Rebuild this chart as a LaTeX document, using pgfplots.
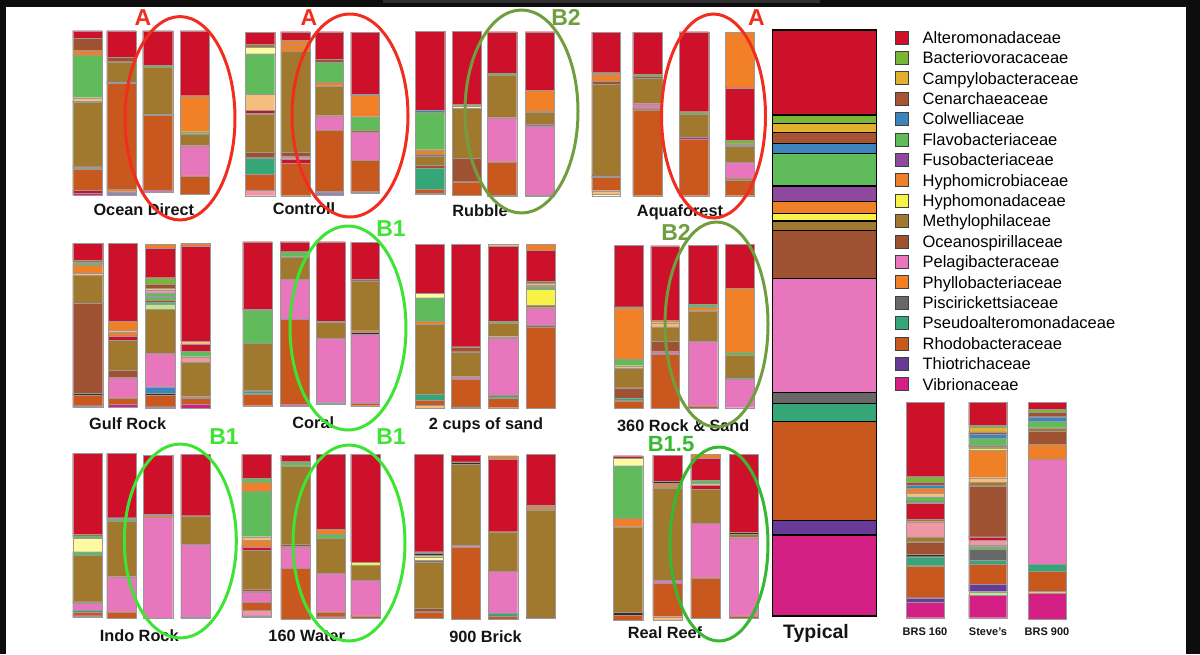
\documentclass[border=0pt]{standalone}
\usepackage{fontspec}
\setmainfont{Liberation Sans}
\usepackage{pgfplots}
\pgfplotsset{compat=1.18}
\definecolor{alt}{RGB}{205,17,42}
\definecolor{bac}{RGB}{122,182,54}
\definecolor{cam}{RGB}{226,176,46}
\definecolor{cen}{RGB}{168,84,52}
\definecolor{col}{RGB}{60,132,190}
\definecolor{fla}{RGB}{96,188,90}
\definecolor{fus}{RGB}{142,72,158}
\definecolor{hmi}{RGB}{240,128,40}
\definecolor{hmo}{RGB}{248,242,72}
\definecolor{met}{RGB}{160,120,46}
\definecolor{oce}{RGB}{158,82,50}
\definecolor{pel}{RGB}{232,118,188}
\definecolor{phy}{RGB}{242,128,38}
\definecolor{pis}{RGB}{104,104,104}
\definecolor{pse}{RGB}{52,166,120}
\definecolor{rho}{RGB}{200,88,30}
\definecolor{thi}{RGB}{104,58,152}
\definecolor{vib}{RGB}{212,32,132}
\definecolor{pch}{RGB}{245,190,125}
\definecolor{lpk}{RGB}{240,150,165}
\definecolor{lye}{RGB}{255,250,160}
\definecolor{lgr}{RGB}{190,232,140}
\definecolor{lav}{RGB}{150,130,185}
\definecolor{dk}{RGB}{70,40,25}
\definecolor{ared}{RGB}{240,45,30}
\definecolor{aolv}{RGB}{112,158,62}
\definecolor{agrn}{RGB}{62,228,52}
\definecolor{agr2}{RGB}{56,184,48}
\pgfplotsset{seg/.style={draw=black!40, line width=0.3pt},
             typ/.style={draw=black, line width=1.1pt}}
% stacked bar: [style]{x left}{x right}{top}{colour/bottom, ...} (pixel units, y downwards)
\newcommand{\sbar}[5][seg]{%
  \gdef\sbprev{#4}%
  \foreach \sbcol/\sby in {#5}{%
    \edef\sbtmp{\noexpand\addplot[#1, fill=\sbcol, forget plot, mark=none] coordinates {(#2,\sbprev) (#3,\sbprev) (#3,\sby) (#2,\sby) (#2,\sbprev)};}%
    \sbtmp
    \xdef\sbprev{\sby}%
  }%
}
\tikzset{lab/.style={font=\fontsize{16.3}{18}\selectfont\bfseries, text=black!92, inner sep=0pt},
         ann/.style={font=\fontsize{23}{25}\selectfont\bfseries, inner sep=0pt}}
\begin{document}
\begin{tikzpicture}
\begin{axis}[name=main, scale only axis, width=1200pt, height=654pt,
  xmin=0, xmax=1200, ymin=0, ymax=654, y dir=reverse, hide axis, clip=false,
  legend image code/.code={\draw[#1, draw=black!75, line width=0.7pt] (0pt,-6.5pt) rectangle (13pt,6.5pt);},
  legend cell align=left,
  legend style={at={(axis cs:894.7,30.5)}, anchor=north west, draw=none, fill=none,
    inner sep=0pt, outer sep=0pt, row sep=6.7pt, column sep=14.2pt,
    font=\fontsize{16.5}{18}\selectfont,
    nodes={inner sep=0pt, text height=11.8pt, text depth=0pt}},
]
% ---------- Ocean Direct
\sbar{72.7}{102}{30.7}{alt/38.3, oce/50, hmi/55, fla/97.7, pch/101, dk/102.3, met/166.7, oce/168, pse/169.5, rho/190, alt/193.3, vib/195}
\sbar{106.7}{136}{30.7}{alt/57.3, oce/61.7, met/81.7, dk/83.5, rho/189, hmi/191.7, lav/195}
\sbar{142.7}{172.7}{30.7}{alt/65, bac/67.3, met/114.3, dk/115.5, rho/190, vib/191.7}
\sbar{180}{209.3}{30.7}{alt/95.7, phy/131.7, bac/133.7, met/145.7, pel/175.7, rho/194}
% ---------- Controll
\sbar{245.3}{274.7}{32.3}{alt/44.3, met/47, lye/53.7, fla/94.3, pch/110.3, alt/113, dk/114.3, met/152.3, oce/157.7, pse/174.3, rho/190, lpk/195.7}
\sbar{280.7}{310}{31.7}{alt/40, hmi/45, phy/51, met/152.3, oce/156.7, lpk/159, alt/163.3, rho/195.7}
\sbar{315}{343.3}{31.7}{alt/59, oce/62.3, fla/82.3, hmi/85.7, met/115.7, pel/130.3, rho/191, hmi/192.5, lav/195}
\sbar{350.7}{379.3}{32.3}{alt/94, dk/95, phy/116.7, fla/130, met/132.3, pel/160, rho/191.7, lav/193.3}
% ---------- Rubble
\sbar{415.3}{444.7}{31}{alt/110.3, col/112.3, fla/149.7, hmi/154.3, dk/155.7, met/165, oce/168.3, pse/189, rho/193.3, alt/194.3}
\sbar{452}{481}{31}{alt/104.3, dk/105.7, lye/108.3, met/158.3, oce/181.7, rho/195}
\sbar{487.3}{516.7}{31.7}{alt/73.3, bac/75, met/117.7, pel/161.7, rho/195, dk/195.7}
\sbar{525}{554.3}{31.7}{alt/90.3, phy/111, dk/112.3, met/124.3, dk/125.7, pel/195, lav/196}
% ---------- Aquaforest
\sbar{591.7}{620}{32.3}{alt/72.7, bac/74.3, hmi/81, oce/84.3, met/175.7, dk/177.3, rho/190.7, pch/194.3, lye/195.7}
\sbar{632.7}{662.3}{32.3}{alt/74.3, bac/76, oce/78.3, met/103.7, pel/107.7, oce/109.7, rho/195.7}
\sbar{679.3}{708.7}{31.7}{alt/111.7, bac/114.3, met/137, vib/139, rho/195.7}
\sbar{725}{754}{32.3}{phy/87.7, alt/140.3, bac/143.7, met/145, hmo/146.5, met/162.3, pel/177.7, oce/179.7, rho/195.7}
% ---------- Gulf Rock
\sbar{72.7}{102.7}{243.3}{alt/260, met/262, hmo/263.5, bac/265, hmi/273.3, pch/275.5, met/303.3, oce/393.3, dk/395, rho/405.7, fus/407.3}
\sbar{108}{137.3}{243.3}{alt/321, hmi/330, pch/332.3, hmi/335.7, alt/340, met/370, oce/377.7, pel/397.7, rho/404.3, vib/407.3}
\sbar{145.3}{175}{244.3}{hmi/248.3, alt/277.7, bac/284.3, oce/288.3, pch/290.5, lpk/293.3, fla/296, alt/297.5, fla/300, oce/302, fla/304.3, lgr/309, met/353.3, pel/386.7, col/393.3, dk/395, rho/406.7, fus/408.3}
\sbar{180.7}{210}{243.3}{hmi/245.7, alt/341, pch/344.3, alt/351, fla/356.7, lpk/361.7, met/396.7, pel/398.3, rho/404.3, vib/408.3}
% ---------- Coral
\sbar{242.7}{272}{241.7}{alt/309, dk/310.3, fla/343.3, met/390, fus/391.5, pse/393, dk/394.3, rho/405.7}
\sbar{280}{309.3}{241.7}{alt/251.7, fla/256.7, met/279.3, pel/319, rho/404.3, vib/405.7}
\sbar{316}{345.3}{241.7}{alt/321, dk/322.3, met/338.3, pel/402.7, pse/404.3}
\sbar{350.7}{379.3}{242.3}{alt/279, dk/280.7, met/330, hmi/332.5, dk/334.3, pel/403.3, rho/405.7}
% ---------- 2 cups of sand
\sbar{415}{444}{244.3}{alt/293.3, lye/297.7, fla/321, hmi/324.3, met/394.3, pse/400, rho/405, pch/408.3}
\sbar{451}{480}{244.3}{alt/346.7, oce/351.7, met/376.7, pel/379, rho/406.7, dk/407.7}
\sbar{488.3}{518.3}{244.3}{pch/246, alt/321, bac/323.3, met/336.7, pch/338.3, pel/395, pse/397.7, rho/407.7}
\sbar{526}{555.3}{244.3}{hmi/250, alt/281, met/283, pch/285, met/286.7, fla/289.3, hmo/305, met/307.7, pel/325, dk/326.7, rho/408.3}
% ---------- 360 Rock & Sand
\sbar{614}{643.3}{245}{alt/306.7, dk/307.7, phy/359, fla/365.7, pch/368.3, met/387.7, oce/398.3, pse/400.7, rho/408.3}
\sbar{650.7}{679.3}{245.7}{alt/320, hmi/322.7, pch/326.7, met/341, oce/351.7, pel/354.3, rho/408.3}
\sbar{688.3}{717.7}{245}{alt/304, fla/307.3, hmi/310.7, met/341, pel/405.7, rho/408.3}
\sbar{725}{754}{244.3}{alt/288.3, phy/352.3, bac/355, met/377.7, dk/379, pel/407.7}
% ---------- Indo Rock
\sbar{72.7}{102}{453.3}{alt/534.3, met/536.3, fla/538.3, lye/551.7, fla/555, met/601.7, oce/603.3, pel/610, pse/612.3, rho/615.7, vib/617.3}
\sbar{106.7}{136}{453.3}{alt/517.7, oce/519.5, fla/521.3, met/576.7, pel/611.7, rho/618.3}
\sbar{143.3}{172.7}{455}{alt/514, met/515.5, hmi/517, pel/618.3}
\sbar{180.7}{210}{454.3}{alt/515.7, met/544.3, pel/616.7, fus/618.3}
% ---------- 160 Water
\sbar{241.7}{271}{454.3}{alt/478.3, fla/482.3, hmi/491, fla/536.7, pch/540, hmi/546.7, alt/550, met/589, oce/591.7, pel/602.3, rho/610, lpk/615.7, fus/617.3}
\sbar{280.7}{310}{455}{alt/461.7, fla/465.7, met/544.3, oce/546.7, pel/568.3, rho/619}
\sbar{316}{345.3}{454.3}{alt/529, hmi/534.3, fla/538.3, met/573.3, pel/611.7, rho/616.7, vib/618.3}
\sbar{350.7}{380}{454.3}{alt/562.3, hmo/565, met/580, pel/615.7, rho/618.3}
% ---------- 900 Brick
\sbar{414}{443.3}{454.3}{alt/551.7, oce/553.5, dk/555, met/556.7, lye/560, dk/561.7, met/608.3, oce/611.7, rho/618.3}
\sbar{451}{480}{455}{alt/461.7, dk/464.3, met/545, pel/546.7, rho/619}
\sbar{488.3}{517.7}{455.7}{hmi/459, alt/531.7, met/571, pel/613.3, pse/616, rho/619}
\sbar{526}{555.3}{454.3}{alt/505, hmi/507.5, met/508.5, hmi/510, met/617.7, dk/618.3}
% ---------- Real Reef
\sbar{613.3}{642.7}{455.7}{alt/458.3, lye/465.7, fla/518.3, hmi/526.7, met/612.3, dk/615, rho/620}
\sbar{652.7}{682}{455}{alt/481, dk/483.3, hmi/485.5, bac/486.5, hmi/488.3, met/580, pel/583.3, rho/616.7, pch/620}
\sbar{690.7}{720}{454.3}{hmi/458.3, alt/480, fla/483.3, pch/485, alt/489, met/523.3, pel/577.7, rho/618.3}
\sbar{729.3}{758.3}{454.3}{alt/532.3, dk/534.3, met/537.7, pel/615.7, rho/618.3}
% ---------- Typical
\sbar[typ]{772.3}{876.7}{30}{alt/115, bac/123.3, cam/132.3, cen/143.3, col/153.3, fla/186, fus/201.7, hmi/213.3, hmo/221, met/230.7, oce/278.3, pel/392.7, pis/403.3, pse/421.7, rho/520.7, thi/535, vib/616}
% ---------- BRS 160, Steve's, BRS 900
\sbar{906}{944}{402.3}{alt/476.7, bac/482.3, oce/485, col/488.3, hmi/493.3, pch/496.7, fla/501.7, dk/503.3, alt/519, met/521.7, lpk/536.7, met/541.7, oce/554.3, dk/556.7, pse/565.7, rho/597.7, thi/602.3, vib/617.7}
\sbar{968.7}{1006.7}{402.3}{alt/425, bac/427, cam/431.7, oce/434.3, col/438.3, fla/445, dk/446.7, cam/448.3, hmo/450, hmi/477.7, pch/482.3, met/485.7, oce/536.7, alt/540, lpk/545, met/546.7, fla/549.3, pis/560, pse/564.3, rho/584.3, thi/591.7, lgr/595, vib/617.7}
\sbar{1028.3}{1066}{402.3}{alt/409, bac/412.3, oce/416.7, col/421, fla/427.7, met/431, oce/444.3, hmi/459, pel/564.3, pse/571, rho/591, pch/593.3, vib/619}
% ---------- legend
\addlegendimage{fill=alt}\addlegendentry{Alteromonadaceae}
\addlegendimage{fill=bac}\addlegendentry{Bacteriovoracaceae}
\addlegendimage{fill=cam}\addlegendentry{Campylobacteraceae}
\addlegendimage{fill=cen}\addlegendentry{Cenarchaeaceae}
\addlegendimage{fill=col}\addlegendentry{Colwelliaceae}
\addlegendimage{fill=fla}\addlegendentry{Flavobacteriaceae}
\addlegendimage{fill=fus}\addlegendentry{Fusobacteriaceae}
\addlegendimage{fill=hmi}\addlegendentry{Hyphomicrobiaceae}
\addlegendimage{fill=hmo}\addlegendentry{Hyphomonadaceae}
\addlegendimage{fill=met}\addlegendentry{Methylophilaceae}
\addlegendimage{fill=oce}\addlegendentry{Oceanospirillaceae}
\addlegendimage{fill=pel}\addlegendentry{Pelagibacteraceae}
\addlegendimage{fill=phy}\addlegendentry{Phyllobacteriaceae}
\addlegendimage{fill=pis}\addlegendentry{Piscirickettsiaceae}
\addlegendimage{fill=pse}\addlegendentry{Pseudoalteromonadaceae}
\addlegendimage{fill=rho}\addlegendentry{Rhodobacteraceae}
\addlegendimage{fill=thi}\addlegendentry{Thiotrichaceae}
\addlegendimage{fill=vib}\addlegendentry{Vibrionaceae}
% ---------- frame
\fill[black!95] (axis cs:0,0) rectangle (axis cs:1200,6.7);
\fill[black!82] (axis cs:383,0) rectangle (axis cs:820,3);
\fill[black!95] (axis cs:0,0) rectangle (axis cs:6,654);
\fill[black!95] (axis cs:1186,0) rectangle (axis cs:1200,654);
% ---------- panel labels
\node[lab, anchor=base] at (axis cs:143.8,215.7) {Ocean Direct};
\node[lab, anchor=base] at (axis cs:304,214.3) {Controll};
\node[lab, anchor=base] at (axis cs:480,216) {Rubble};
\node[lab, anchor=base] at (axis cs:680,216) {Aquaforest};
\node[lab, anchor=base] at (axis cs:127.7,429) {Gulf Rock};
\node[lab, anchor=base] at (axis cs:313.3,428.3) {Coral};
\node[lab, anchor=base] at (axis cs:486,429.5) {2 cups of sand};
\node[lab, anchor=base] at (axis cs:683.3,431) {360 Rock \& Sand};
\node[lab, anchor=base] at (axis cs:139.2,641) {Indo Rock};
\node[lab, anchor=base] at (axis cs:306.7,641) {160 Water};
\node[lab, anchor=base] at (axis cs:485.5,642) {900 Brick};
\node[lab, anchor=base] at (axis cs:665,638.3) {Real Reef};
\node[lab, anchor=base, font=\fontsize{19.5}{21}\selectfont\bfseries] at (axis cs:816,638) {Typical};
\node[lab, anchor=base, font=\fontsize{11}{12}\selectfont\bfseries] at (axis cs:925,635) {BRS 160};
\node[lab, anchor=base, font=\fontsize{11}{12}\selectfont\bfseries] at (axis cs:988,635) {Steve's};
\node[lab, anchor=base, font=\fontsize{11}{12}\selectfont\bfseries] at (axis cs:1047,635) {BRS 900};
% ---------- annotation ellipses
\draw[ared, line width=3pt] (axis cs:180,118.3) ellipse [x radius=55pt, y radius=101.7pt];
\draw[ared, line width=3pt] (axis cs:350,115.5) ellipse [x radius=58pt, y radius=101.5pt];
\draw[aolv, line width=3pt] (axis cs:521.5,111.5) ellipse [x radius=56.5pt, y radius=101.5pt];
\draw[ared, line width=3pt] (axis cs:713.5,116) ellipse [x radius=52pt, y radius=102pt];
\draw[agrn, line width=3pt] (axis cs:348,328) ellipse [x radius=58pt, y radius=102pt];
\draw[aolv, line width=3pt] (axis cs:716.5,324.5) ellipse [x radius=51.5pt, y radius=102.5pt];
\draw[agrn, line width=3pt] (axis cs:180.3,541) ellipse [x radius=56pt, y radius=97pt];
\draw[agrn, line width=3pt] (axis cs:349,543) ellipse [x radius=56pt, y radius=98pt];
\draw[agr2, line width=3pt] (axis cs:719,544) ellipse [x radius=49pt, y radius=97pt];
% ---------- annotation labels
\node[ann, text=ared] at (axis cs:143,17.5) {A};
\node[ann, text=ared] at (axis cs:309,17.5) {A};
\node[ann, text=aolv] at (axis cs:566,17.5) {B2};
\node[ann, text=ared] at (axis cs:756.5,17.5) {A};
\node[ann, text=agrn] at (axis cs:391,229) {B1};
\node[ann, text=aolv] at (axis cs:676,232) {B2};
\node[ann, text=agrn] at (axis cs:224,437) {B1};
\node[ann, text=agrn] at (axis cs:391,437) {B1};
\node[ann, text=agr2, font=\fontsize{22}{24}\selectfont\bfseries] at (axis cs:671,444.5) {B1.5};
\end{axis}
\pgfresetboundingbox
\path (main.south west) rectangle (main.north east);
\end{tikzpicture}
\end{document}
